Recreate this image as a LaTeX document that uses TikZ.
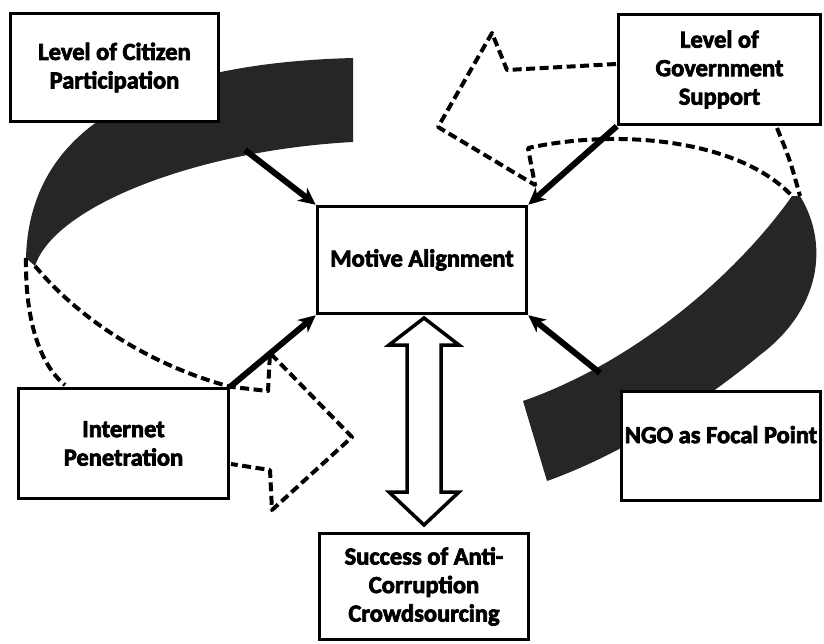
\documentclass[tikz,border=0pt]{standalone}
\usepackage{fontspec}
\setmainfont{Carlito}[BoldFeatures = {FakeBold = 3}]
\usetikzlibrary{arrows.meta}

\tikzset{
	factor/.style = {draw, line width = 3.5pt, fill = white, align = center, inner sep = 0pt,
		font = \bfseries\fontsize{24.5}{28.5}\selectfont},
	band/.style = {fill = black!85},
	trace/.style = {dash pattern = on 9pt off 4.5pt, line width = 4pt, line join = round},
}

\begin{document}
\begin{tikzpicture}[x = 1pt, y = -1pt]

	\useasboundingbox (0, 0) rectangle (824, 643);

	% Dark part of the two loops
	
	\fill [band] (353, 58) .. controls (200, 62) and (30, 100) .. (26, 258) -- (35, 266)
		.. controls (55, 205) and (200, 150) .. (353, 142) -- cycle;
	\fill [band] (800, 196) .. controls (830, 245) and (820, 310) .. (760, 355)
		.. controls (700, 405) and (620, 455) .. (547, 481) -- (523, 401)
		.. controls (640, 360) and (740, 270) .. (792, 196) -- cycle;

	% Factors
	
	\node [factor, minimum width = 208pt, minimum height = 108pt] (cit) at (114.5, 67.5) {Level of Citizen\\Participation};
	\node [factor, minimum width = 202pt, minimum height = 110pt] (gov) at (719.5, 69.5) {Level of\\Government\\Support};
	\node [factor, minimum width = 209pt, minimum height = 107pt] (mot) at (422, 260) {Motive Alignment};
	\node [factor, minimum width = 210pt, minimum height = 110pt] (net) at (123.5, 443.5) {Internet\\Penetration};
	\node [factor, minimum width = 199pt, minimum height = 109pt, text depth = 23pt] (ngo) at (721, 446) {NGO as Focal Point};
	\node [factor, minimum width = 209pt, minimum height = 106pt] (suc) at (424, 586.5) {Success of Anti-\\Corruption\\Crowdsourcing};

	\coordinate (citout) at (245, 150);
	\coordinate (ngoout) at (600, 373);

	% Faded part of the two loops, as dashed outlines
	
	\begin{scope}[trace]
	
		\draw (26, 258) .. controls (25, 320) and (40, 365) .. (65, 385);
		\draw (35, 266) .. controls (80, 320) and (150, 365) .. (net.north east)
			-- (268, 391) -- (270, 353) -- (352, 437) -- (272, 510) -- (270, 470) -- (231, 464);
		
		\draw (616, 64) -- (507, 70) -- (492, 33) -- (438, 127) -- (535, 185) -- (528, 148)
			.. controls (620, 128) and (740, 140) .. (792, 196);
		\draw (777, 128) .. controls (790, 160) .. (800, 196);
	
	\end{scope}

	% Influences on motive alignment
	
	\begin{scope}[-{Stealth[length = 17pt, width = 16pt, inset = 5pt]}, line width = 6pt]
	
		\draw (citout) -- (mot.north west);
		\draw (gov.south west) -- (mot.north east);
		\draw (net.north east) -- (mot.south west);
		\draw (ngoout) -- (mot.south east);
	
	\end{scope}

	% Two-way link to success
	
	\draw [line width = 3.5pt, fill = white, line join = miter] (424, 318) -- (459, 345) -- (441, 345) -- (441, 492) -- (459, 492)
		-- (424, 525) -- (389, 492) -- (407, 492) -- (407, 345) -- (389, 345) -- cycle;

\end{tikzpicture}
\end{document}
